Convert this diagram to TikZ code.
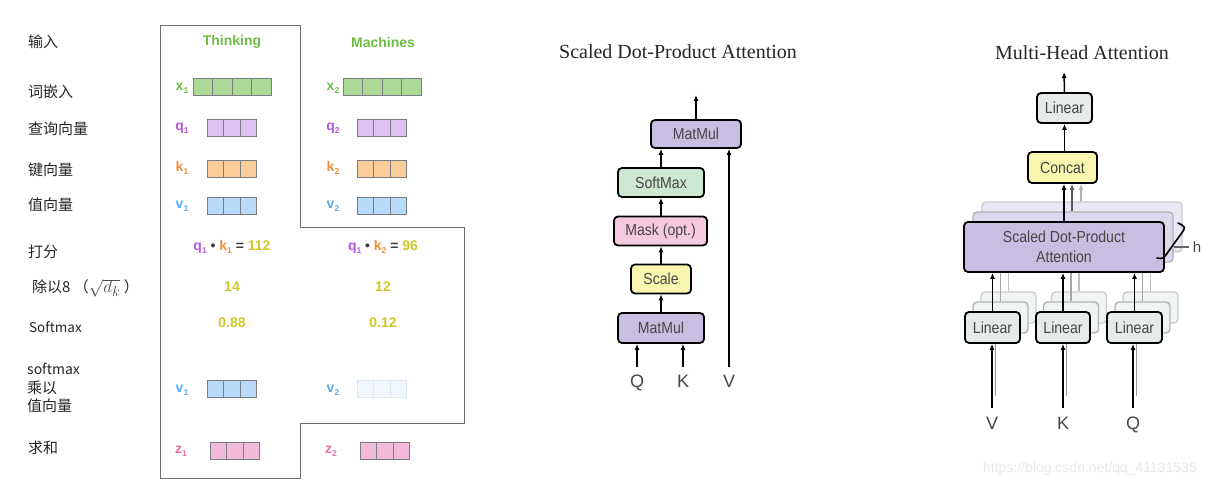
\documentclass[tikz,border=0pt]{standalone}
\usepackage{fontspec}
\setmainfont{Liberation Serif}
\setsansfont{Liberation Sans}
\newfontfamily\cjk{Noto Sans CJK SC}
\newfontfamily\condsans[FakeStretch=0.88]{Liberation Sans}
\usetikzlibrary{arrows.meta}
\definecolor{thinkgreen}{RGB}{110,190,70}
\definecolor{xfill}{RGB}{172,216,152}
\definecolor{qcol}{RGB}{180,90,220}
\definecolor{qfill}{RGB}{222,192,242}
\definecolor{kcol}{RGB}{240,145,60}
\definecolor{kfill}{RGB}{250,205,155}
\definecolor{vcol}{RGB}{90,170,235}
\definecolor{vfill}{RGB}{185,218,250}
\definecolor{vfaint}{RGB}{240,246,252}
\definecolor{vfaintd}{RGB}{222,230,240}
\definecolor{zcol}{RGB}{235,110,170}
\definecolor{zfill}{RGB}{242,186,216}
\definecolor{numcol}{RGB}{208,200,40}
\definecolor{cellline}{RGB}{120,125,130}
\definecolor{outl}{RGB}{110,110,110}
\definecolor{boxtext}{RGB}{70,70,70}
\definecolor{lavender}{RGB}{200,190,225}
\definecolor{lavs}{RGB}{222,216,238}
\definecolor{smgreen}{RGB}{205,232,208}
\definecolor{maskpink}{RGB}{246,202,222}
\definecolor{scaley}{RGB}{250,245,175}
\definecolor{linfill}{RGB}{228,235,232}
\definecolor{linfills}{RGB}{240,244,242}
\definecolor{wm}{RGB}{232,232,232}
\newcommand{\vsub}[2]{#1\raisebox{-0.2em}{\fontsize{8.5}{8.5}\selectfont #2}}
\newcommand{\cellrow}[6]{%
  \foreach \i in {1,...,#4}{%
    \node[cellbox, fill=#6, minimum width=#5pt] (#1-\i) at ({#2+(\i-0.5)*#5}, #3) {};}}
\begin{document}
\begin{tikzpicture}[x=1pt,y=-1pt,
  cellbox/.style={draw=cellline, line width=0.8pt, minimum height=17pt, inner sep=0pt},
  cnlab/.style={anchor=west, font=\cjk\fontsize{15}{18.5}\selectfont, text=black!85, inner sep=0pt, align=left},
  vlab/.style={font=\sffamily\bfseries\fontsize{14}{14}\selectfont, inner sep=0pt},
  word/.style={font=\sffamily\bfseries\fontsize{14}{14}\selectfont, text=thinkgreen, inner sep=0pt},
  num/.style={font=\sffamily\bfseries\fontsize{14}{14}\selectfont, text=numcol, inner sep=0pt},
  sdbox/.style={draw=black, line width=1.8pt, rounded corners=4pt, minimum height=29pt, text=boxtext,
     font=\condsans\fontsize{16}{18}\selectfont, inner sep=0pt, align=center},
  shbox/.style={draw=black!35, line width=1.4pt, rounded corners=4pt, inner sep=0pt},
  arr/.style={line width=1.5pt, -{Latex[length=6pt,width=5pt]}},
  title/.style={font=\rmfamily\fontsize{20}{20}\selectfont, text=black!85, inner sep=0pt},
  qkv/.style={font=\sffamily\fontsize{18}{18}\selectfont, text=boxtext, inner sep=0pt, anchor=base}]
\useasboundingbox (0,0) rectangle (1221,489);
\fill[white] (0,0) rectangle (1221,489);

% ---------------- left panel ----------------
\draw[outl, line width=1pt] (160,26) -- (300,26) -- (300,228) -- (464,228) -- (464,423)
  -- (300,423) -- (300,478) -- (160,478) -- cycle;

\node[cnlab] (L1) at (28,42) {输入};
\node[cnlab] (L2) at (28,92) {词嵌入};
\node[cnlab] (L3) at (28,129) {查询向量};
\node[cnlab] (L4) at (28,170) {键向量};
\node[cnlab] (L5) at (28,205) {值向量};
\node[cnlab] (L6) at (28,252) {打分};
\node[cnlab] (L7) at (32,288) {除以8 （{\fontsize{19}{19}\selectfont\color{black!70}$\sqrt{d_k}$} ）};
\node[cnlab, font=\cjk\fontsize{13.5}{13.5}\selectfont] (L8) at (29,327) {Softmax};
\node[cnlab] (L9) at (27,388) {{\fontsize{14}{18.5}\selectfont softmax}\\乘以\\值向量};
\node[cnlab] (L10) at (28,448) {求和};

\node[word] (w1) at (232,42) {Thinking};
\node[word] (w2) at (383,42) {Machines};

\node[vlab, text=thinkgreen] (lx1) at (182,88) {\vsub{x}{1}};
\node[vlab, text=thinkgreen] (lx2) at (333,88) {\vsub{x}{2}};
\cellrow{bx1}{193}{86.5}{4}{19.5}{xfill}
\cellrow{bx2}{343}{86.5}{4}{19.5}{xfill}

\node[vlab, text=qcol] (lq1) at (182,128) {\vsub{q}{1}};
\node[vlab, text=qcol] (lq2) at (333,128) {\vsub{q}{2}};
\cellrow{bq1}{207}{127.5}{3}{16.5}{qfill}
\cellrow{bq2}{357}{127.5}{3}{16.5}{qfill}

\node[vlab, text=kcol] (lk1) at (182,168) {\vsub{k}{1}};
\node[vlab, text=kcol] (lk2) at (333,168) {\vsub{k}{2}};
\cellrow{bk1}{207}{168.5}{3}{16.5}{kfill}
\cellrow{bk2}{357}{168.5}{3}{16.5}{kfill}

\node[vlab, text=vcol] (lv1) at (182,206) {\vsub{v}{1}};
\node[vlab, text=vcol] (lv2) at (333,206) {\vsub{v}{2}};
\cellrow{bv1}{207}{205.5}{3}{16.5}{vfill}
\cellrow{bv2}{357}{205.5}{3}{16.5}{vfill}

\node[vlab] (s1) at (232,247) {\textcolor{qcol}{\vsub{q}{1}} \textcolor{black!75}{\textbullet} \textcolor{kcol}{\vsub{k}{1}} \textcolor{black!75}{=} \textcolor{numcol}{112}};
\node[vlab] (s2) at (383,247) {\textcolor{qcol}{\vsub{q}{1}} \textcolor{black!75}{\textbullet} \textcolor{kcol}{\vsub{k}{2}} \textcolor{black!75}{=} \textcolor{numcol}{96}};
\node[num] (d1) at (232,287) {14};
\node[num] (d2) at (383,287) {12};
\node[num] (p1) at (232,323) {0.88};
\node[num] (p2) at (383,323) {0.12};

\node[vlab, text=vcol] (lw1) at (182,390) {\vsub{v}{1}};
\node[vlab, text=vcol] (lw2) at (333,390) {\vsub{v}{2}};
\cellrow{bw1}{207}{389}{3}{16.5}{vfill}
\tikzset{cellbox/.append style={draw=vfaintd}}
\cellrow{bw2}{357}{389}{3}{16.5}{vfaint}
\tikzset{cellbox/.append style={draw=cellline}}

\node[vlab, text=zcol] (lz1) at (181,451) {\vsub{z}{1}};
\node[vlab, text=zcol] (lz2) at (331,451) {\vsub{z}{2}};
\cellrow{bz1}{210}{450.5}{3}{16.5}{zfill}
\cellrow{bz2}{360}{450.5}{3}{16.5}{zfill}

% ---------------- middle panel ----------------
\node[title] (t1) at (678,52) {Scaled Dot-Product Attention};
\node[sdbox, fill=lavender, minimum width=90pt, minimum height=28pt] (mm2) at (696,134) {MatMul};
\node[sdbox, fill=smgreen, minimum width=86pt] (sm) at (661,182.5) {SoftMax};
\node[sdbox, fill=maskpink, minimum width=93pt] (mask) at (660.5,231) {Mask (opt.)};
\node[sdbox, fill=scaley, minimum width=60pt] (scale) at (661,279) {Scale};
\node[sdbox, fill=lavender, minimum width=86pt, minimum height=30pt] (mm1) at (661,328) {MatMul};
\node[qkv] (Q1) at (637,387) {Q};
\node[qkv] (K1) at (683,387) {K};
\node[qkv] (V1) at (729,387) {V};
\coordinate (out1) at (696,95);

\draw[arr] (mm1.north -| sm) -- (scale.south);
\draw[arr] (scale.north) -- (mask.south -| scale);
\draw[arr] (mask.north -| scale) -- (sm.south);
\draw[arr] (sm.north) -- (mm2.south -| sm);
\draw[arr] (mm2.north) -- (out1);
\draw[arr] ([yshift=7pt]Q1.north) -- (mm1.south -| Q1);
\draw[arr] ([yshift=7pt]K1.north) -- (mm1.south -| K1);
\draw[arr] ([yshift=7pt]V1.north) -- (mm2.south -| V1);

% ---------------- right panel ----------------
\node[title] (t2) at (1082,53) {Multi-Head Attention};

% shadow attention heads
\node[shbox, draw=black!20, fill=lavs!60, minimum width=200pt, minimum height=50pt] (sdS2) at (1082,227) {};
\node[shbox, draw=black!30, fill=lavs, minimum width=200pt, minimum height=50pt] (sdS1) at (1073,237) {};

% shadow linear boxes
\foreach \n/\cx in {V/992.5, K/1063, Q/1134.5}{
  \node[shbox, draw=black!20, fill=linfills, minimum width=55pt, minimum height=31pt] (lin\n S2) at (\cx+16,307.5) {};
  \node[shbox, draw=black!30, fill=linfills, minimum width=55pt, minimum height=31pt] (lin\n S1) at (\cx+8,317.5) {};
}
\foreach \n in {V,K,Q}{
  \draw[line width=1.4pt, black!25] (lin\n S2.north) -- (sdS2.south -| lin\n S2.north);
  \draw[line width=1.4pt, black!35] (lin\n S1.north) -- (sdS1.south -| lin\n S1.north);
}

\node[sdbox, fill=lavender, minimum width=200pt, minimum height=50pt, font=\condsans\fontsize{16}{20}\selectfont] (sdpa) at (1064,247) {Scaled Dot-Product\\Attention};

\node[sdbox, fill=linfill, minimum width=55pt, minimum height=31pt] (linV) at (992.5,327.5) {Linear};
\node[sdbox, fill=linfill, minimum width=54pt, minimum height=31pt] (linK) at (1063,327.5) {Linear};
\node[sdbox, fill=linfill, minimum width=55pt, minimum height=31pt] (linQ) at (1134.5,327.5) {Linear};

\node[sdbox, fill=scaley, minimum width=69pt, minimum height=31pt] (concat) at (1062.5,167.5) {Concat};
\node[sdbox, fill=linfill, minimum width=55pt, minimum height=30pt] (lintop) at (1064.5,108) {Linear};
\coordinate (out2) at (1064,72);

\node[qkv] (V2) at (992,429) {V};
\node[qkv] (K2) at (1063,429) {K};
\node[qkv] (Q2) at (1133,429) {Q};

\draw[arr] (linV.north) -- (sdpa.south -| linV);
\draw[arr] (linK.north) -- (sdpa.south -| linK);
\draw[arr] (linQ.north) -- (sdpa.south -| linQ);
\foreach \n/\m in {V2/linV, K2/linK, Q2/linQ}{
  \draw[line width=1pt, black!40] ([xshift=3pt,yshift=20pt]\n.north) -- ([xshift=3pt]\m.south -| \n);
  \draw[arr] ([yshift=8pt]\n.north) -- (\m.south -| \n);
}
\draw[arr, black!65] ([xshift=8pt]sdS1.north -| sdpa) -- ([xshift=8pt]concat.south -| sdpa);
\draw[arr, black!30] ([xshift=17pt]sdS2.north -| sdpa) -- ([xshift=17pt]concat.south -| sdpa);
\draw[arr] (sdpa.north) -- (concat.south -| sdpa);
\draw[arr] (concat.north -| lintop) -- (lintop.south);
\draw[arr] (lintop.north) -- (out2);

% brace and h
\node[font=\sffamily\fontsize{15}{15}\selectfont, text=boxtext, inner sep=0pt] (hlab) at (1197,247) {h};
\coordinate (br1) at (1178,223);
\coordinate (br2) at (1157,258);
\draw[line width=1.6pt, line cap=round] (br1) .. controls (1186,227) .. (1181,234) -- (1168,252) .. controls (1163,259) .. (br2);
\draw[line width=1.2pt, black!60] (1174,247) -- ([xshift=-4pt]hlab.west);

% watermark
\node[font=\sffamily\fontsize{14}{14}\selectfont, text=wm, inner sep=0pt] (wmk) at (1090,469) {https://blog.csdn.net/qq\_41131535};
\end{tikzpicture}
\end{document}
